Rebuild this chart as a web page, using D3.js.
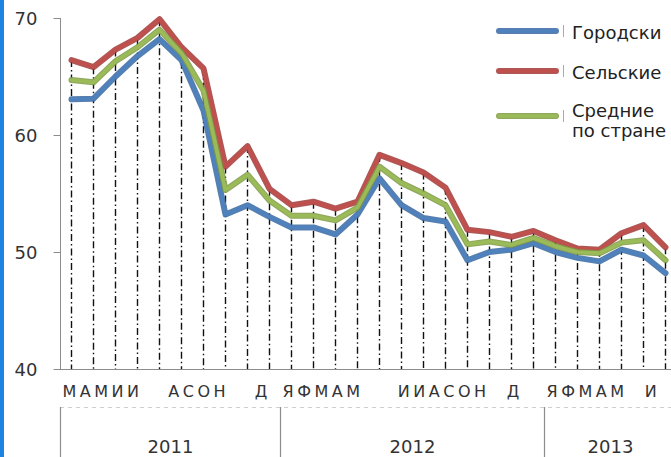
<!DOCTYPE html>
<html><head><meta charset="utf-8">
<script src="https://cdn.jsdelivr.net/npm/d3@7"></script>
<style>body{margin:0;background:#fff}svg{display:block}</style>
</head><body>
<svg id="c" width="671" height="457"></svg>
<script>
const months = ["М","А","М","И","И","А","С","О","Н","Д",
  "Я","Ф","М","А","М","И","И","А","С","О","Н","Д",
  "Я","Ф","М","А","М","И"];
// month-letter rows as they are typeset under each year in the original
const monthRows = ["МАМИИ   АСОН   Д", "ЯФМАМ    ИИАСОН  Д", "ЯФМАМ  И"];
const years = [{label:"2011", n:10},{label:"2012", n:12},{label:"2013", n:6}];
const urban = [63.05,63.1,65.0,66.75,68.2,66.4,62.1,53.2,54.0,53.0,52.1,52.1,51.5,53.2,56.3,54.0,52.9,52.6,49.3,50.0,50.2,50.75,50.0,49.5,49.2,50.2,49.7,48.2];
const rural = [66.4,65.8,67.3,68.3,69.9,67.5,65.7,57.3,59.05,55.4,54.0,54.3,53.7,54.3,58.3,57.6,56.8,55.5,51.9,51.7,51.3,51.8,51.0,50.3,50.2,51.6,52.3,50.4];
const average = [64.7,64.5,66.3,67.5,69.0,67.0,63.8,55.3,56.6,54.4,53.1,53.1,52.7,53.8,57.3,55.9,55.0,54.0,50.65,50.9,50.6,51.2,50.5,50.0,49.9,50.8,51.0,49.3];
const yTicks = [40,50,60,70];
const seriesNames = ["Городски","Сельские","Средние|по стране"];

const series = [
  {name:seriesNames[0], values:urban, color:"#4F81BD", dark:"#3A68A0"},
  {name:seriesNames[1], values:rural, color:"#C0504D", dark:"#9E3B38"},
  {name:seriesNames[2], values:average, color:"#9BBB59", dark:"#7D9A42"}
];

const svg = d3.select("#c");
const band = 22, x0 = 60.5;
const idx = months.map((m,i)=>i);
const x = d3.scaleBand().domain(idx).range([x0, x0 + band*months.length]).paddingInner(0).paddingOuter(0);
const y = d3.scaleLinear().domain([40,70]).range([369,18]);
const cx = i => x(i) + x.bandwidth()/2;

// left blue strip
svg.append("rect").attr("x",0).attr("y",0).attr("width",4).attr("height",457).attr("fill","#1E84E4");

// y axis
const yAxis = d3.axisLeft(y).tickValues(yTicks).tickSize(7).tickPadding(6).tickFormat(d3.format("d"));
const ya = svg.append("g").attr("transform","translate(60.5,0)").call(yAxis);
ya.select(".domain").attr("stroke","#8c8c8c").attr("d","M0,18V369");
ya.selectAll(".tick line").attr("stroke","#8c8c8c").attr("x1",-7).attr("x2",0);
ya.selectAll(".tick text").attr("font-family","DejaVu Sans").attr("font-size",18).attr("fill","#333").attr("x",-23).attr("dy","0.38em");

// x axis line
svg.append("line").attr("x1",60).attr("x2",671).attr("y1",369.5).attr("y2",369.5).attr("stroke","#8c8c8c");

// drop lines
svg.append("g").selectAll("line").data(idx).join("line")
  .attr("x1",i=>cx(i)).attr("x2",i=>cx(i))
  .attr("y1",i=>y(Math.max(urban[i],rural[i],average[i])))
  .attr("y2",369)
  .attr("stroke","#111").attr("stroke-width",1.4).attr("stroke-dasharray","7,3,1.5,3");

// year boundaries
let start = 0;
const bounds = [0];
years.forEach(yr=>{ start += yr.n; bounds.push(start); });

// month labels: each letter its own text, laid out like the typeset row
const ml = svg.append("g").attr("font-family","DejaVu Sans").attr("font-size",16).attr("fill","#333");
const ls = 3.5, spaceW = 0.318*16;
monthRows.forEach((row,k)=>{
  let cursor = x(bounds[k]) + 2;
  for (const ch of row) {
    if (ch === " ") { cursor += spaceW + ls; continue; }
    const t = ml.append("text").attr("x",cursor).attr("y",397).text(ch);
    cursor += t.node().getComputedTextLength() + ls;
  }
});

// dashed separator
svg.append("line").attr("x1",60).attr("x2",671).attr("y1",407.5).attr("y2",407.5)
  .attr("stroke","#d0d0d0").attr("stroke-dasharray","4,4");

// year dividers and labels
svg.append("g").selectAll("line").data(bounds.slice(0,3)).join("line")
  .attr("x1",b=>x(b)).attr("x2",b=>x(b)).attr("y1",407).attr("y2",457)
  .attr("stroke","#8c8c8c").attr("stroke-width",1.2);
svg.append("g").selectAll("text").data(years).join("text")
  .attr("x",(d,k)=>(x(bounds[k]) + x0 + band*bounds[k+1])/2)
  .attr("y",453).attr("text-anchor","middle")
  .attr("font-family","DejaVu Sans").attr("font-size",18).attr("fill","#333")
  .text(d=>d.label);

// lines
const line = d3.line().x((d,i)=>cx(i)).y(d=>y(d)).curve(d3.curveLinear);
const lg = svg.append("g");
series.forEach(s=>{
  lg.append("path").attr("d",line(s.values)).attr("fill","none")
    .attr("stroke",s.dark).attr("stroke-width",6).attr("stroke-linejoin","round").attr("stroke-linecap","round").attr("opacity",0.85);
  lg.append("path").attr("d",line(s.values)).attr("fill","none")
    .attr("stroke",s.color).attr("stroke-width",3.6).attr("stroke-linejoin","round").attr("stroke-linecap","round");
});

// legend
const legY = [31,71,116];
const leg = svg.append("g");
series.forEach((s,k)=>{
  leg.append("line").attr("x1",499).attr("x2",556).attr("y1",legY[k]).attr("y2",legY[k])
    .attr("stroke",s.dark).attr("stroke-width",6).attr("stroke-linecap","round").attr("opacity",0.85);
  leg.append("line").attr("x1",499).attr("x2",556).attr("y1",legY[k]).attr("y2",legY[k])
    .attr("stroke",s.color).attr("stroke-width",3.6).attr("stroke-linecap","round");
  leg.append("line").attr("x1",563.5).attr("x2",563.5).attr("y1",legY[k]-6).attr("y2",legY[k]+6)
    .attr("stroke","#aaa");
  const parts = s.name.split("|");
  const t = leg.append("text").attr("font-family","DejaVu Sans").attr("font-size",18).attr("fill","#222");
  const base = parts.length>1 ? 117 : legY[k]+8;
  parts.forEach((p,j)=>{
    t.append("tspan").attr("x",572).attr("y",base + j*20).text(p);
  });
});
</script>
</body></html>
